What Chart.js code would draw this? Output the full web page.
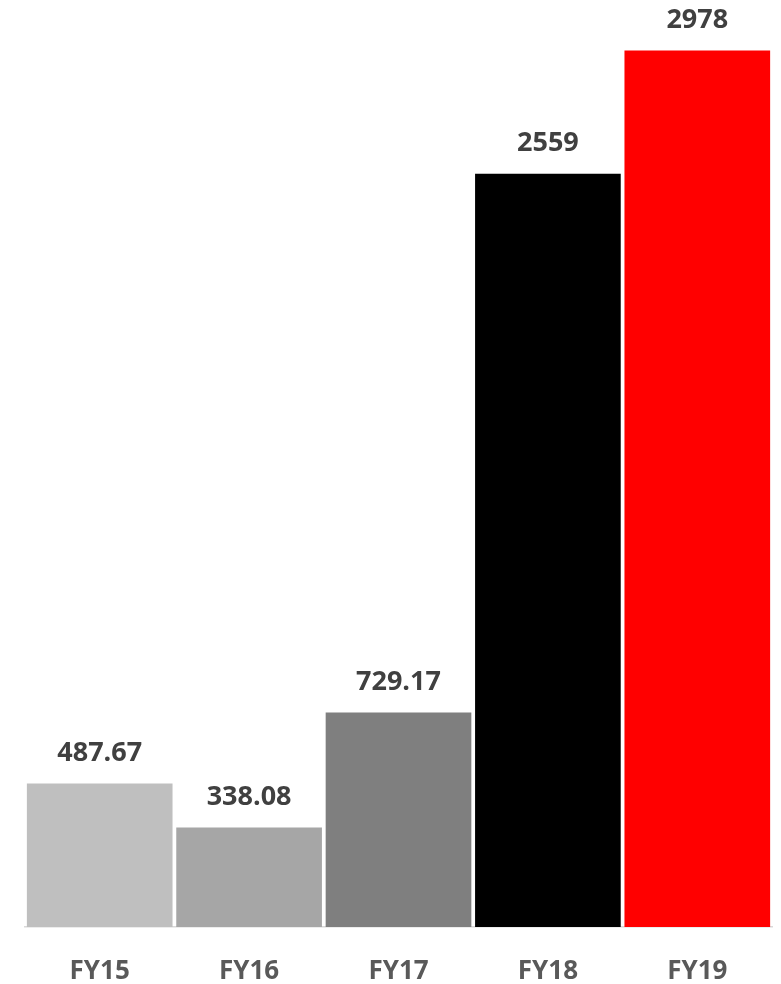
<!DOCTYPE html>
<html>
<head>
<meta charset="utf-8">
<script src="https://cdn.jsdelivr.net/npm/chart.js@4.4.1/dist/chart.umd.min.js"></script>
<style>
  html, body { margin: 0; padding: 0; background: #fff; }
  canvas { display: block; }
</style>
</head>
<body>
<canvas id="chart" width="781" height="984"></canvas>
<script>
// --- Data ---
const categories = ["FY15", "FY16", "FY17", "FY18", "FY19"];
const values = [487.67, 338.08, 729.17, 2559, 2978];
const valueLabels = ["487.67", "338.08", "729.17", "2559", "2978"];
const barColors = ["#bfbfbf", "#a6a6a6", "#7f7f7f", "#000000", "#ff0000"];

// --- Simple value labels above each bar ---
const barLabels = {
  id: "barLabels",
  afterDatasetsDraw(chart) {
    const ctx = chart.ctx;
    const meta = chart.getDatasetMeta(0);
    ctx.save();
    ctx.font = "bold 27px 'Open Sans'";
    ctx.fillStyle = "#404040";
    ctx.textAlign = "center";
    ctx.textBaseline = "middle";
    meta.data.forEach((bar, i) => {
      ctx.fillText(valueLabels[i], bar.x, bar.y - 30);
    });
    ctx.restore();
  }
};

new Chart(document.getElementById("chart"), {
  type: "bar",
  data: {
    labels: categories,
    datasets: [
      {
        data: values,
        backgroundColor: barColors,
        borderWidth: 0,
        barPercentage: 0.975,
        categoryPercentage: 1
      }
    ]
  },
  options: {
    responsive: false,
    animation: false,
    layout: {
      padding: { left: 25, right: 9, top: 44, bottom: 0 }
    },
    plugins: {
      legend: { display: false },
      tooltip: { enabled: false }
    },
    scales: {
      y: {
        display: false,
        min: 0,
        max: 3000
      },
      x: {
        grid: { display: false },
        border: { display: true, color: "#d9d9d9", width: 1.5 },
        ticks: {
          color: "#595959",
          font: { family: "'Open Sans'", size: 26, weight: "bold" },
          padding: 21
        },
        afterFit(scale) {
          scale.height = 57;
        }
      }
    }
  },
  plugins: [barLabels]
});
</script>
</body>
</html>
